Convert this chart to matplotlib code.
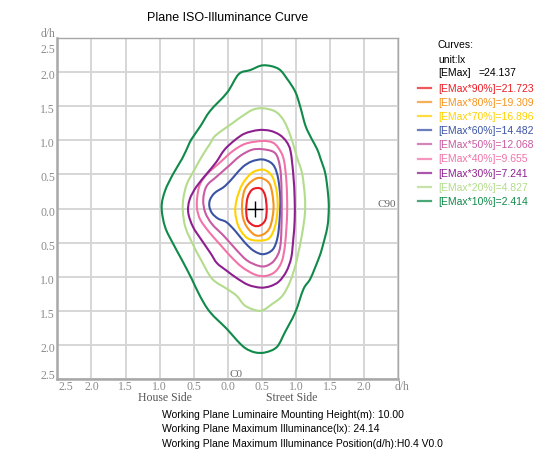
import numpy as np
import matplotlib.pyplot as plt
from matplotlib.lines import Line2D
from matplotlib.path import Path
from matplotlib.patches import PathPatch

# %% data (d/h units, luminaire at the origin)
E_MAX = '24.137'
PCT = [90, 80, 70, 60, 50, 40, 30, 20, 10]
LEVEL_LX = ['21.723', '19.309', '16.896', '14.482', '12.068', '9.655', '7.241', '4.827', '2.414']
COLORS = ['#ec1c24', '#f7941d', '#ffd200', '#3a53a4', '#c95aa4', '#f173a8', '#8e1f8f', '#b3dc8c', '#0f8a48']

iso90 = np.array([(0.43, 0.30), (0.50, 0.28), (0.55, 0.18), (0.57, -0.01), (0.55, -0.17), (0.47, -0.25),
                  (0.38, -0.25), (0.29, -0.17), (0.27, -0.01), (0.29, 0.16), (0.35, 0.27), (0.43, 0.30)])
iso80 = np.array([(0.47, 0.45), (0.60, 0.38), (0.65, 0.23), (0.67, -0.01), (0.62, -0.27), (0.52, -0.38),
                  (0.40, -0.39), (0.28, -0.27), (0.22, -0.12), (0.21, 0.08), (0.25, 0.28), (0.35, 0.40),
                  (0.47, 0.45)])
iso70 = np.array([(0.50, 0.57), (0.60, 0.53), (0.67, 0.43), (0.72, 0.23), (0.73, -0.01), (0.69, -0.27),
                  (0.60, -0.44), (0.43, -0.47), (0.28, -0.43), (0.16, -0.27), (0.11, -0.06), (0.13, 0.13),
                  (0.21, 0.35), (0.35, 0.52), (0.50, 0.57)])
iso60 = np.array([(0.50, 0.72), (0.62, 0.68), (0.69, 0.60), (0.74, 0.43), (0.77, 0.15), (0.76, -0.15),
                  (0.73, -0.42), (0.66, -0.60), (0.52, -0.67), (0.38, -0.62), (0.25, -0.50), (0.11, -0.33),
                  (-0.02, -0.20), (-0.14, -0.15), (-0.23, -0.07), (-0.27, 0.03), (-0.26, 0.13), (-0.19, 0.23),
                  (-0.04, 0.33), (0.10, 0.48), (0.22, 0.61), (0.35, 0.69), (0.50, 0.72)])
iso50 = np.array([(0.50, 0.87), (0.67, 0.83), (0.74, 0.72), (0.78, 0.47), (0.79, -0.06), (0.77, -0.55),
                  (0.69, -0.75), (0.57, -0.84), (0.45, -0.84), (0.28, -0.76), (0.11, -0.59), (-0.06, -0.40),
                  (-0.23, -0.23), (-0.33, -0.06), (-0.36, 0.13), (-0.31, 0.33), (-0.16, 0.47), (0.01, 0.62),
                  (0.18, 0.77), (0.35, 0.86), (0.50, 0.87)])
iso40 = np.array([(0.50, 0.99), (0.65, 0.97), (0.74, 0.89), (0.82, 0.72), (0.86, 0.38), (0.87, -0.06),
                  (0.84, -0.52), (0.79, -0.78), (0.69, -0.93), (0.55, -0.99), (0.40, -0.97), (0.21, -0.86),
                  (0.04, -0.70), (-0.12, -0.52), (-0.27, -0.35), (-0.40, -0.17), (-0.45, -0.01), (-0.45, 0.15),
                  (-0.41, 0.35), (-0.30, 0.51), (-0.12, 0.67), (0.07, 0.84), (0.26, 0.95), (0.50, 0.99)])
iso30 = np.array([(0.25, 1.10), (0.45, 1.15), (0.62, 1.14), (0.76, 1.08), (0.86, 0.98), (0.92, 0.84),
                  (0.96, 0.50), (0.98, 0.15), (0.98, -0.18), (0.96, -0.45), (0.93, -0.72), (0.86, -0.92),
                  (0.75, -1.07), (0.62, -1.14), (0.48, -1.16), (0.30, -1.12), (0.13, -1.02), (-0.02, -0.91),
                  (-0.16, -0.80), (-0.25, -0.66), (-0.38, -0.47), (-0.51, -0.27), (-0.58, -0.06), (-0.56, 0.13),
                  (-0.46, 0.32), (-0.30, 0.52), (-0.17, 0.68), (-0.05, 0.86), (0.10, 1.00), (0.25, 1.10)])
iso20 = np.array([(0.37, 1.45), (0.52, 1.47), (0.70, 1.42), (0.82, 1.29), (0.91, 1.09), (0.98, 0.87),
                  (1.02, 0.73), (1.09, 0.51), (1.13, 0.17), (1.13, -0.08), (1.09, -0.37), (1.03, -0.67),
                  (0.99, -0.84), (0.91, -1.08), (0.80, -1.28), (0.65, -1.40), (0.48, -1.50), (0.26, -1.43),
                  (0.13, -1.28), (-0.01, -1.18), (-0.23, -1.03), (-0.40, -0.74), (-0.50, -0.55), (-0.62, -0.28),
                  (-0.66, -0.03), (-0.65, 0.16), (-0.60, 0.36), (-0.50, 0.55), (-0.37, 0.78), (-0.26, 0.95),
                  (-0.18, 1.07), (0.08, 1.26), (0.22, 1.36), (0.37, 1.45)])
iso10 = np.array([(0.52, 2.10), (0.74, 2.05), (0.87, 1.90), (0.99, 1.71), (1.06, 1.50), (1.14, 1.21),
                  (1.23, 1.02), (1.31, 0.87), (1.36, 0.73), (1.43, 0.51), (1.47, 0.21), (1.48, 0.00),
                  (1.46, -0.27), (1.38, -0.59), (1.33, -0.74), (1.21, -1.03), (1.11, -1.18), (0.99, -1.52),
                  (0.84, -1.81), (0.72, -2.03), (0.55, -2.11), (0.40, -2.11), (0.26, -2.05), (0.14, -1.94),
                  (-0.01, -1.77), (-0.26, -1.52), (-0.41, -1.28), (-0.53, -1.03), (-0.67, -0.76), (-0.80, -0.52),
                  (-0.92, -0.27), (-0.97, 0.02), (-0.92, 0.26), (-0.80, 0.51), (-0.67, 0.73), (-0.58, 0.92),
                  (-0.53, 1.02), (-0.40, 1.21), (-0.26, 1.43), (-0.01, 1.70), (0.16, 1.97), (0.33, 2.03),
                  (0.52, 2.10)])
ISO = [iso90, iso80, iso70, iso60, iso50, iso40, iso30, iso20, iso10]

MAX_POS = (0.4, 0.0)          # H0.4 V0.0
TICKS = [-2.5, -2.0, -1.5, -1.0, -0.5, 0.0, 0.5, 1.0, 1.5, 2.0, 2.5]
X_TICK_TEXT = ['2.5', '2.0', '1.5', '1.0', '0.5', '0.0', '0.5', '1.0', '1.5', '2.0', 'd/h']
Y_TICK_TEXT = ['2.5', '2.0', '1.5', '1.0', '0.5', '0.0', '0.5', '1.0', '1.5', '2.0', '2.5']
INFO = ['Working Plane Luminaire Mounting Height(m): 10.00',
        'Working Plane Maximum Illuminance(lx): 24.14',
        'Working Plane Maximum Illuminance Position(d/h):H0.4 V0.0']

SANS = 'Liberation Sans'
SERIF = 'Liberation Serif'
TICK_GREY = '#8c8c8c'


def closed_curve(pts):
    # closed path through the read points, drawn with cubic segments
    # (Catmull-Rom tangents) so the isolines come out round, not faceted
    p = pts[:-1]
    n = len(p)
    verts = [p[0]]
    codes = [Path.MOVETO]
    for i in range(n):
        p0, p1, p2, p3 = p[i - 1], p[i], p[(i + 1) % n], p[(i + 2) % n]
        verts += [p1 + (p2 - p0) / 6, p2 - (p3 - p1) / 6, p2]
        codes += [Path.CURVE4] * 3
    return Path(verts, codes)


# %% figure
fig = plt.figure(figsize=(5.39, 4.52), dpi=100)
ax = fig.add_axes([0.1063, 0.1593, 0.6327, 0.7544])
ax.set_xlim(-2.5, 2.5)
ax.set_ylim(-2.5, 2.5)
ax.set_xticks(TICKS)
ax.set_yticks(TICKS)
ax.tick_params(length=0, labelbottom=False, labelleft=False)
ax.grid(color='#d6d6d6', lw=1.4)
ax.set_axisbelow(True)
for side in ['left', 'bottom', 'top', 'right']:
    ax.spines[side].set_color('#a8a8a8')
    ax.spines[side].set_linewidth(1.0)
ax.spines['left'].set_linewidth(1.8)
ax.spines['bottom'].set_linewidth(1.8)

for pts, c in zip(ISO, COLORS):
    ax.add_patch(PathPatch(closed_curve(pts), facecolor='none', edgecolor=c, lw=1.5))
ax.plot(*MAX_POS, marker='+', color='black', ms=12, mew=1.0)

# tick labels (absolute distances on both sides)
xt = ax.get_xaxis_transform()
yt = ax.get_yaxis_transform()
for i, (v, s) in enumerate(zip(TICKS, X_TICK_TEXT)):
    ha = 'left' if i == 0 else 'center'
    x = v + 0.02 if i == 0 else (v + 0.06 if i == len(TICKS) - 1 else v)
    ax.text(x, -0.021, s, transform=xt, ha=ha, va='center', fontsize=8.5,
            family=SERIF, color=TICK_GREY)
for i, (v, s) in enumerate(zip(TICKS[::-1], Y_TICK_TEXT)):
    y = v - 0.045
    if i == 0:
        y = v - 0.16
    elif i == len(TICKS) - 1:
        y = v + 0.06
    ax.text(-0.007, y, s, transform=yt, ha='right', va='center', fontsize=8.5,
            family=SERIF, color=TICK_GREY)
ax.text(-0.007, 1.015, 'd/h', transform=ax.transAxes, ha='right', va='center',
        fontsize=8.5, family=SERIF, color=TICK_GREY)

ax.text(0.02, -2.42, 'C0', ha='left', va='center', fontsize=8, family=SERIF, color='#666666')
ax.text(2.47, 0.07, 'C90', ha='right', va='center', fontsize=8, family=SERIF, color='#666666')
ax.text(-0.92, -0.052, 'House Side', transform=xt, ha='center', va='center',
        fontsize=8.5, family=SERIF, color='#555555')
ax.text(0.94, -0.052, 'Street Side', transform=xt, ha='center', va='center',
        fontsize=8.5, family=SERIF, color='#555555')

fig.text(0.4223, 0.960, 'Plane ISO-Illuminance Curve', ha='center', va='center',
         fontsize=9, family=SANS)

# legend block on the right
lx = 438 / 539
fig.text(lx, 1 - 45 / 452, 'Curves:', va='center', fontsize=7.5, family=SANS)
fig.text(lx, 1 - 60 / 452, 'unit:lx', va='center', fontsize=7.5, family=SANS)
fig.text(lx, 1 - 73 / 452, '[EMax]', va='center', fontsize=7.5, family=SANS)
fig.text(479 / 539, 1 - 73 / 452, '=' + E_MAX, va='center', fontsize=7.5, family=SANS)
for i, (p, lv, c) in enumerate(zip(PCT, LEVEL_LX, COLORS)):
    y = 1 - (88.5 + 14.2 * i) / 452
    fig.add_artist(Line2D([418 / 539, 431 / 539], [y, y], color=c, lw=1.6, alpha=0.75,
                          transform=fig.transFigure))
    fig.text(lx, y, f'[EMax*{p}%]={lv}', va='center', fontsize=7.5, family=SANS, color=c)

for i, s in enumerate(INFO):
    fig.text(0.300, 1 - (415 + 14.4 * i) / 452, s, va='center', fontsize=7.5, family=SANS)

fig.savefig('out.png', dpi=100)
